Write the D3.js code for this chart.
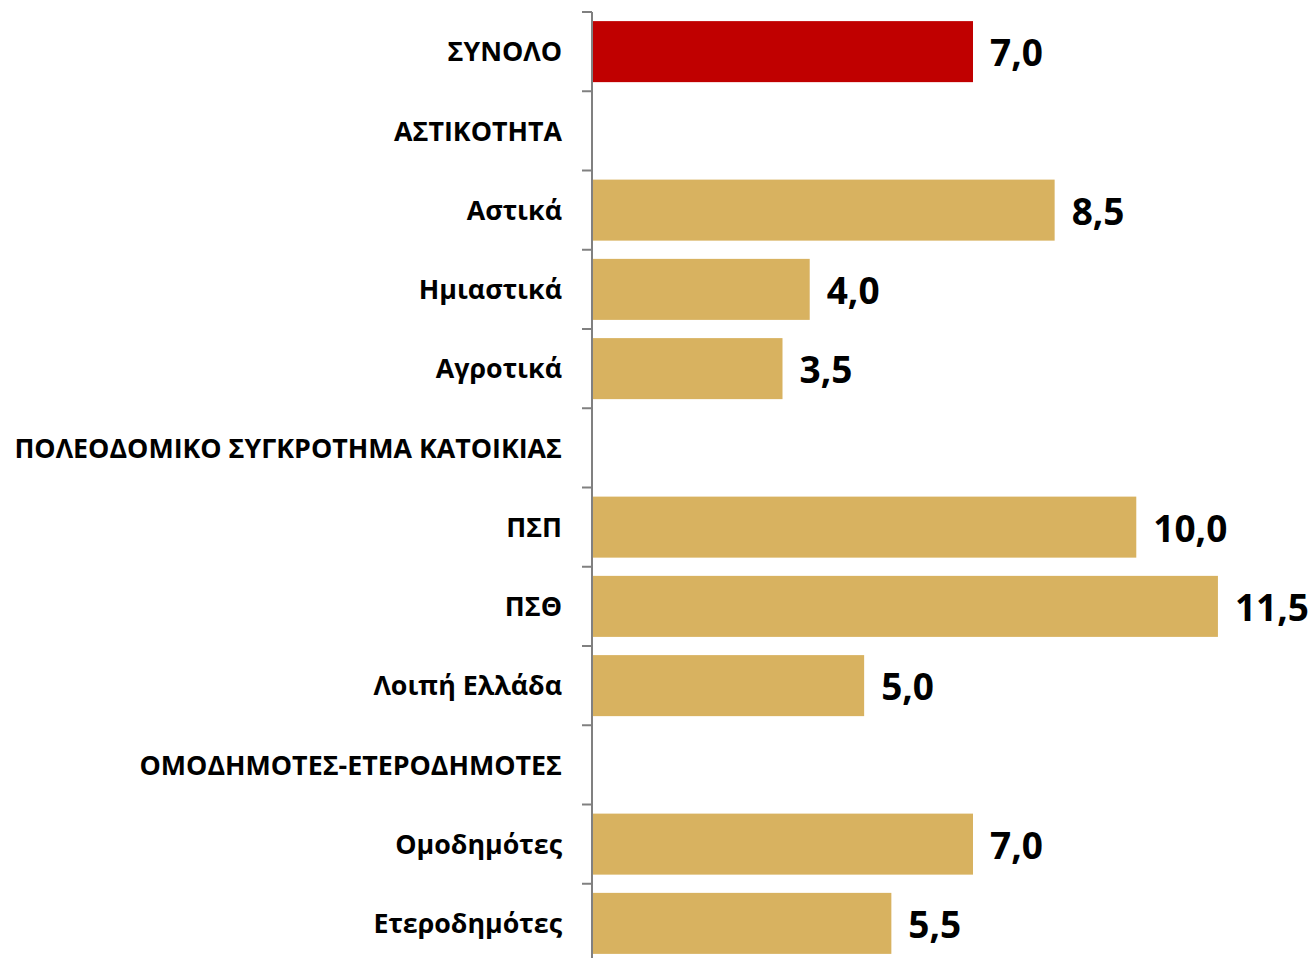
<!DOCTYPE html>
<html>
<head>
<meta charset="utf-8">
<script src="https://cdn.jsdelivr.net/npm/d3@7"></script>
<style>
  body { margin: 0; background: #fff; }
  text { font-family: "Open Sans", Arial, sans-serif; font-weight: bold; }
</style>
</head>
<body>
<svg id="svg" width="1315" height="958"></svg>
<script>
// chart data
var categories = ["ΣΥΝΟΛΟ", "ΑΣΤΙΚΟΤΗΤΑ", "Αστικά", "Ημιαστικά", "Αγροτικά",
  "ΠΟΛΕΟΔΟΜΙΚΟ ΣΥΓΚΡΟΤΗΜΑ ΚΑΤΟΙΚΙΑΣ", "ΠΣΠ", "ΠΣΘ", "Λοιπή Ελλάδα",
  "ΟΜΟΔΗΜΟΤΕΣ-ΕΤΕΡΟΔΗΜΟΤΕΣ", "Ομοδημότες", "Ετεροδημότες"];
var values = [7.0, null, 8.5, 4.0, 3.5, null, 10.0, 11.5, 5.0, null, 7.0, 5.5];
var highlight = ["ΣΥΝΟΛΟ"];

var svg = d3.select("#svg");

// axis x position and scales
var x0 = 592;
var x = d3.scaleLinear().domain([0, 7]).range([x0, 973]);
var y = d3.scaleBand().domain(categories).range([12, 963]).paddingInner(0.23).paddingOuter(0.115);
var yTicks = d3.scaleBand().domain(categories).range([12, 963]);

var withValue = categories.filter(function(c, i) { return values[i] != null; });
function val(d) { return values[categories.indexOf(d)]; }

// bars
svg.append("g").selectAll("rect")
  .data(withValue)
  .enter().append("rect")
    .attr("x", x0 + 1)
    .attr("y", function(d) { return y(d); })
    .attr("width", function(d) { return x(val(d)) - x0 - 1; })
    .attr("height", y.bandwidth())
    .attr("fill", function(d) { return highlight.indexOf(d) >= 0 ? "#C00000" : "#D8B260"; });

// value labels
svg.append("g").selectAll("text")
  .data(withValue)
  .enter().append("text")
    .attr("x", function(d) { return x(val(d)) + 17; })
    .attr("y", function(d) { return y(d) + y.bandwidth() / 2; })
    .attr("dy", "0.4em")
    .style("font-size", "37px")
    .attr("fill", "#000")
    .text(function(d) { return d3.format(".1f")(val(d)).replace(".", ","); });

// axis line and tick marks at band edges
var axis = svg.append("g");
axis.append("line")
  .attr("x1", x0).attr("x2", x0)
  .attr("y1", 12).attr("y2", 958)
  .attr("stroke", "#808080").attr("stroke-width", 2);
axis.selectAll("line.tick")
  .data(categories)
  .enter().append("line")
    .attr("class", "tick")
    .attr("x1", x0 - 10).attr("x2", x0)
    .attr("y1", function(d) { return yTicks(d); })
    .attr("y2", function(d) { return yTicks(d); })
    .attr("stroke", "#808080").attr("stroke-width", 2);

// category labels
svg.append("g").selectAll("text")
  .data(categories)
  .enter().append("text")
    .attr("x", x0 - 30)
    .attr("y", function(d) { return yTicks(d) + yTicks.bandwidth() / 2; })
    .attr("dy", "0.36em")
    .attr("text-anchor", "end")
    .style("font-size", "26.8px")
    .attr("fill", "#000")
    .text(function(d) { return d; });
</script>
</body>
</html>
